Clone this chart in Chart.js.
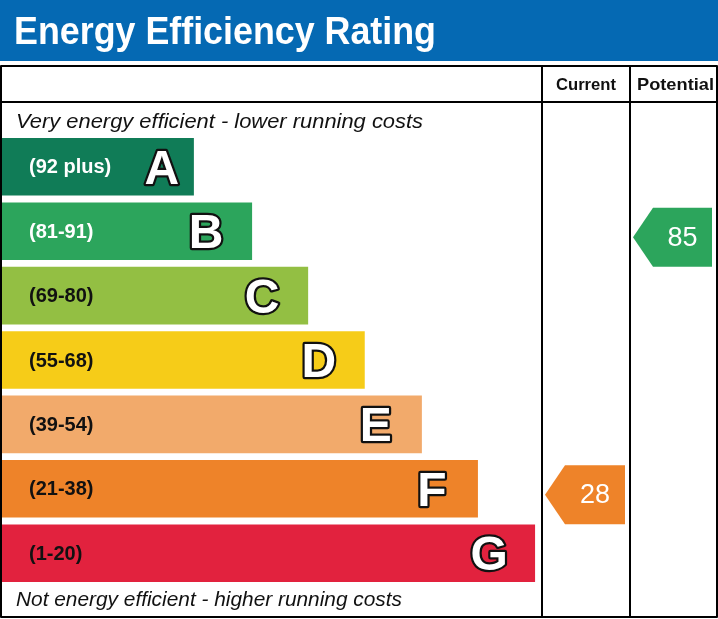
<!DOCTYPE html>
<html>
<head>
<meta charset="utf-8">
<script src="https://cdn.jsdelivr.net/npm/chart.js@4.4.1/dist/chart.umd.min.js"></script>
<style>
  html, body { margin: 0; padding: 0; background: #ffffff; }
  #wrap { width: 718px; height: 619px; }
</style>
</head>
<body>
<div id="wrap"><canvas id="c" width="718" height="619"></canvas></div>
<script>
// ---- data ----
const chartTitle = 'Energy Efficiency Rating';
const bandLetters = ['A', 'B', 'C', 'D', 'E', 'F', 'G'];
const bandRanges = ['(92 plus)', '(81-91)', '(69-80)', '(55-68)', '(39-54)', '(21-38)', '(1-20)'];
const bandLower = [92, 81, 69, 55, 39, 21, 1];
const barLengths = [35.6, 46.4, 56.8, 67.3, 77.9, 88.3, 98.9];
const bandColors = ['#107c57', '#2ca55c', '#93bf43', '#f6cc18', '#f2aa6b', '#ee8329', '#e2223e'];
const rangeTextColors = ['#ffffff', '#ffffff', '#111111', '#111111', '#111111', '#111111', '#111111'];
const columnHeaders = ['Current', 'Potential'];
const ratingValues = [28, 85];
const topNote = 'Very energy efficient - lower running costs';
const bottomNote = 'Not energy efficient - higher running costs';

const FONT = '"Liberation Sans", Arial, Helvetica, sans-serif';

function bandIndexFor(v) {
  for (let i = 0; i < bandLower.length; i++) if (v >= bandLower[i]) return i;
  return bandLower.length - 1;
}

function fitText(ctx, text, x, y, targetW, align) {
  const w = ctx.measureText(text).width;
  const s = targetW / w;
  ctx.save();
  ctx.translate(x, y);
  ctx.scale(s, 1);
  ctx.textAlign = align || 'left';
  ctx.fillText(text, 0, 0);
  ctx.restore();
}

const epcPlugin = {
  id: 'epc',
  beforeDraw(chart) {
    const ctx = chart.ctx;
    ctx.save();
    ctx.fillStyle = '#ffffff';
    ctx.fillRect(0, 0, chart.width, chart.height);
    ctx.fillStyle = '#0569b3';
    ctx.fillRect(0, 0, chart.width, 61);
    ctx.fillStyle = '#ffffff';
    ctx.font = 'bold 39px ' + FONT;
    ctx.textBaseline = 'alphabetic';
    fitText(ctx, chartTitle, 14, 44, 422, 'left');
    ctx.restore();
  },
  afterDatasetsDraw(chart) {
    const ctx = chart.ctx;
    const area = chart.chartArea;
    const meta = chart.getDatasetMeta(0);
    ctx.save();

    meta.data.forEach((bar, i) => {
      const yc = bar.y;
      ctx.textBaseline = 'middle';
      ctx.fillStyle = rangeTextColors[i];
      ctx.font = 'bold 20px ' + FONT;
      ctx.textAlign = 'left';
      ctx.fillText(bandRanges[i], area.left + 27, yc + 1);

      const cx = i === 0 ? bar.x - 32 : bar.x - 46;
      ctx.font = 'bold 48px ' + FONT;
      ctx.textAlign = 'center';
      ctx.textBaseline = 'alphabetic';
      ctx.lineJoin = 'round';
      ctx.lineWidth = 4.5;
      ctx.strokeStyle = '#111111';
      ctx.strokeText(bandLetters[i], cx, yc + 17);
      ctx.fillStyle = '#ffffff';
      ctx.fillText(bandLetters[i], cx, yc + 17);
    });

    const colLeft = [area.right + 1, area.right + 89];
    const colRight = [area.right + 88, 716];
    ctx.strokeStyle = '#000000';
    ctx.lineWidth = 2;
    ctx.strokeRect(1, 66, 716, 551);
    ctx.beginPath();
    ctx.moveTo(0, 102); ctx.lineTo(718, 102);
    ctx.moveTo(colLeft[0], 66); ctx.lineTo(colLeft[0], 618);
    ctx.moveTo(colLeft[1], 66); ctx.lineTo(colLeft[1], 618);
    ctx.stroke();

    ctx.fillStyle = '#111111';
    ctx.font = 'bold 17px ' + FONT;
    ctx.textBaseline = 'alphabetic';
    const headerW = [60, 77];
    columnHeaders.forEach((h, k) => {
      const cx = (colLeft[k] + (k === 0 ? colLeft[1] : 717)) / 2 + (k === 0 ? 0 : 2);
      fitText(ctx, h, cx, 90, headerW[k], 'center');
    });

    ctx.font = 'italic 21px ' + FONT;
    ctx.fillStyle = '#111111';
    fitText(ctx, topNote, 16, 128, 407, 'left');
    fitText(ctx, bottomNote, 16, 606, 386, 'left');

    ratingValues.forEach((v, k) => {
      const bi = bandIndexFor(v);
      const bar = meta.data[bi];
      const h = bar.height + 1.5;
      const yc = bar.y + 6;
      const x0 = colLeft[k] + 3;
      const x1 = colRight[k] - 4;
      ctx.fillStyle = bandColors[bi];
      ctx.beginPath();
      ctx.moveTo(x0, yc);
      ctx.lineTo(x0 + 20, yc - h / 2);
      ctx.lineTo(x1, yc - h / 2);
      ctx.lineTo(x1, yc + h / 2);
      ctx.lineTo(x0 + 20, yc + h / 2);
      ctx.closePath();
      ctx.fill();
      ctx.fillStyle = '#ffffff';
      ctx.font = '27px ' + FONT;
      ctx.textAlign = 'center';
      ctx.textBaseline = 'middle';
      ctx.fillText(String(v), (x0 + 20 + x1) / 2, yc + 1);
    });
    ctx.restore();
  }
};

new Chart(document.getElementById('c'), {
  type: 'bar',
  data: {
    labels: bandLetters,
    datasets: [{
      data: barLengths,
      backgroundColor: bandColors,
      borderWidth: 0,
      barPercentage: 1,
      categoryPercentage: 0.894
    }]
  },
  options: {
    indexAxis: 'y',
    responsive: false,
    animation: false,
    devicePixelRatio: 1,
    layout: { padding: { left: 2, right: 177, top: 134.6, bottom: 33.6 } },
    scales: {
      x: { display: false, min: 0, max: 100 },
      y: { display: false }
    },
    plugins: { legend: { display: false }, tooltip: { enabled: false }, title: { display: false } }
  },
  plugins: [epcPlugin]
});
</script>
</body>
</html>
